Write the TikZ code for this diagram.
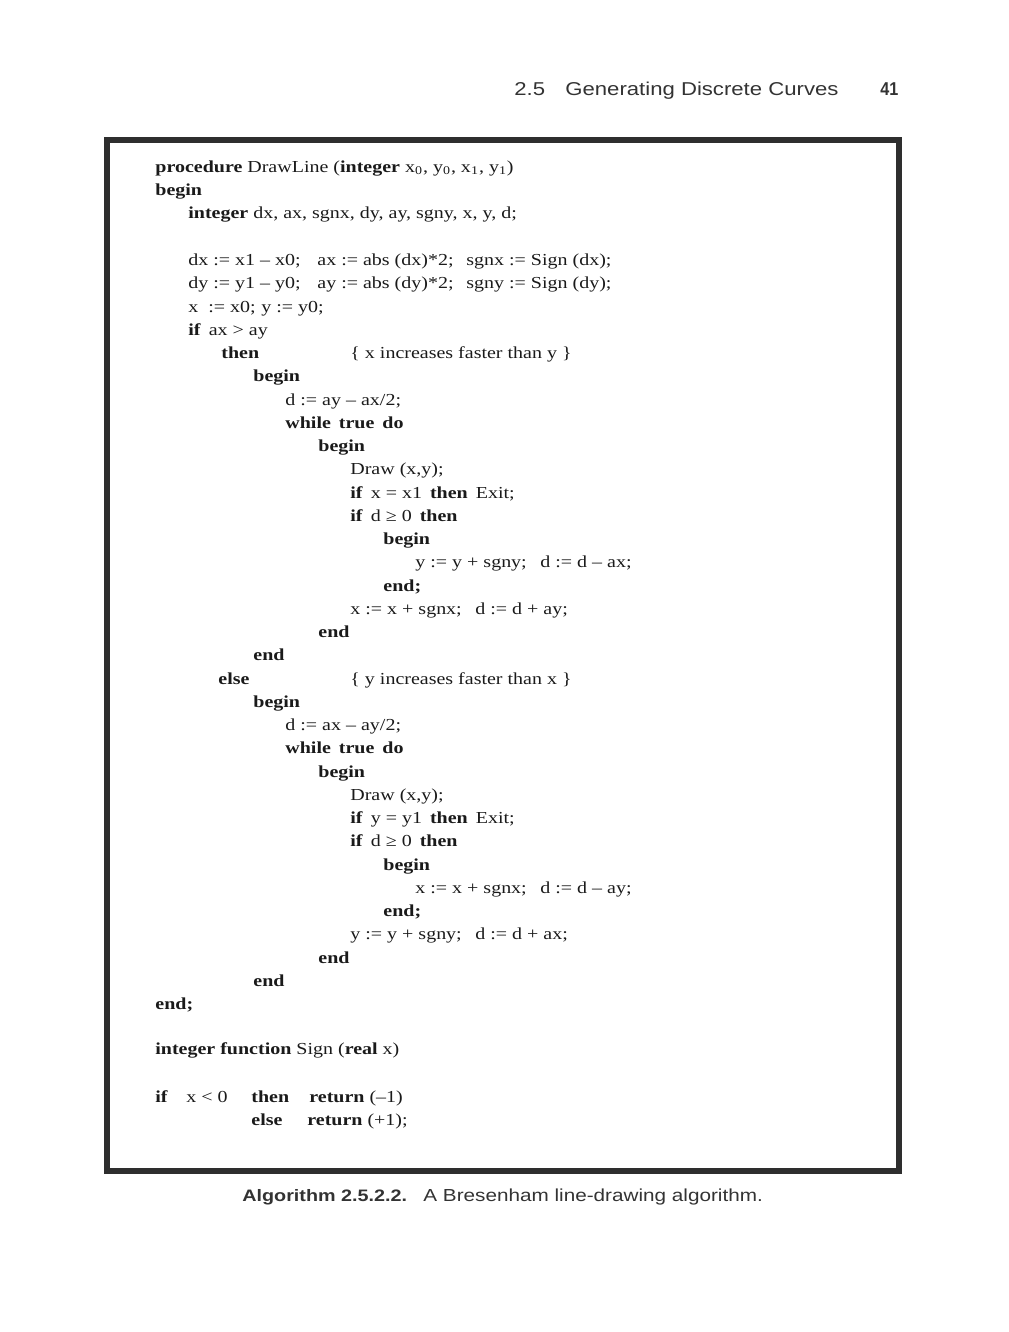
\documentclass[tikz,border=0pt]{standalone}
\usepackage{fontspec}
\setmainfont{Liberation Serif}[FakeStretch=1.19]
\newfontfamily\capfont{Liberation Sans}[FakeStretch=1.19]
\newfontfamily\pgfont{Liberation Sans}[FakeStretch=0.87]
\usepackage{tikz}
\definecolor{ink}{HTML}{1A1A1A}
\definecolor{headgray}{HTML}{333333}
\definecolor{framegray}{HTML}{2E2E2E}
\newcommand{\codesize}{\fontsize{8.4}{10}\selectfont}
\newcommand{\kw}[1]{\textbf{#1}}

\begin{document}
\begin{tikzpicture}[x=0.5pt,y=-0.5pt,
  code/.style={anchor=base west,inner sep=0pt,text=ink,font=\codesize},
  head/.style={anchor=base west,inner sep=0pt,text=headgray,font=\capfont\fontsize{9.3}{11}\selectfont},
  caption/.style={anchor=base west,inner sep=0pt,text=headgray,font=\capfont\fontsize{8.7}{10}\selectfont},
  frame/.style={draw=framegray,line width=3pt}]
  \useasboundingbox (0,0) rectangle (1008,1332);
  % running head
  \node[head] (sec)   at (514,96) {2.5};
  \node[head] (title) at (565,96) {Generating Discrete Curves};
  \node[head,font=\pgfont\bfseries\fontsize{9.3}{11}\selectfont] (page) at (880,96) {41};
  % box
  \draw[frame] (107,140) rectangle (899,1170.5);
  % procedure
  \node[code] (p0)  at (155,172.5)  {\kw{procedure} DrawLine (\kw{integer} x\textsubscript{0}, y\textsubscript{0}, x\textsubscript{1}, y\textsubscript{1})};
  \node[code] (p1)  at (155,195.75) {\kw{begin}};
  \node[code] (p2)  at (188,219)    {\kw{integer} dx, ax, sgnx, dy, ay, sgny, x, y, d;};
  \node[code] (p4a) at (188,265.5)  {dx := x1 – x0;};
  \node[code] (p4b) at (317,265.5)  {ax := abs (dx)*2;};
  \node[code] (p4c) at (466,265.5)  {sgnx := Sign (dx);};
  \node[code] (p5a) at (188,288.75) {dy := y1 – y0;};
  \node[code] (p5b) at (317,288.75) {ay := abs (dy)*2;};
  \node[code] (p5c) at (466,288.75) {sgny := Sign (dy);};
  \node[code] (p6a) at (188,312)    {x};
  \node[code] (p6b) at (208,312)    {:= x0;};
  \node[code] (p6c) at (261,312)    {y := y0;};
  \node[code] (p7)  at (188,335.25) {\kw{if}\hspace{4pt}ax > ay};
  \node[code] (p8a) at (221,358.5)  {\kw{then}};
  \node[code] (p8b) at (350,358.5)  {\{ x increases faster than y \}};
  \node[code] (p9)  at (253,381.75) {\kw{begin}};
  \node[code] (p10) at (285,405)    {d := ay – ax/2;};
  \node[code] (p11) at (285,428.25) {\kw{while}\hspace{4pt}\kw{true}\hspace{4pt}\kw{do}};
  \node[code] (p12) at (318,451.5)  {\kw{begin}};
  \node[code] (p13) at (350,474.75) {Draw (x,y);};
  \node[code] (p14) at (350,498)    {\kw{if}\hspace{4pt}x = x1\hspace{4pt}\kw{then}\hspace{4pt}Exit;};
  \node[code] (p15) at (350,521.25) {\kw{if}\hspace{4pt}d ≥ 0\hspace{4pt}\kw{then}};
  \node[code] (p16) at (383,544.5)  {\kw{begin}};
  \node[code] (p17a) at (415,567.75) {y := y + sgny;};
  \node[code] (p17b) at (540,567.75) {d := d – ax;};
  \node[code] (p18) at (383,591)    {\kw{end;}};
  \node[code] (p19a) at (350,614.25) {x := x + sgnx;};
  \node[code] (p19b) at (475,614.25) {d := d + ay;};
  \node[code] (p20) at (318,637.5)  {\kw{end}};
  \node[code] (p21) at (253,660.75) {\kw{end}};
  \node[code] (p22a) at (218,684)   {\kw{else}};
  \node[code] (p22b) at (350,684)   {\{ y increases faster than x \}};
  \node[code] (p23) at (253,707.25) {\kw{begin}};
  \node[code] (p24) at (285,730.5)  {d := ax – ay/2;};
  \node[code] (p25) at (285,753.75) {\kw{while}\hspace{4pt}\kw{true}\hspace{4pt}\kw{do}};
  \node[code] (p26) at (318,777)    {\kw{begin}};
  \node[code] (p27) at (350,800.25) {Draw (x,y);};
  \node[code] (p28) at (350,823.5)  {\kw{if}\hspace{4pt}y = y1\hspace{4pt}\kw{then}\hspace{4pt}Exit;};
  \node[code] (p29) at (350,846.75) {\kw{if}\hspace{4pt}d ≥ 0\hspace{4pt}\kw{then}};
  \node[code] (p30) at (383,870)    {\kw{begin}};
  \node[code] (p31a) at (415,893.25) {x := x + sgnx;};
  \node[code] (p31b) at (540,893.25) {d := d – ay;};
  \node[code] (p32) at (383,916.5)  {\kw{end;}};
  \node[code] (p33a) at (350,939.75) {y := y + sgny;};
  \node[code] (p33b) at (475,939.75) {d := d + ax;};
  \node[code] (p34) at (318,963)    {\kw{end}};
  \node[code] (p35) at (253,986.25) {\kw{end}};
  \node[code] (p36) at (155,1009.5) {\kw{end;}};
  % sign function
  \node[code] (f0)  at (155,1054)   {\kw{integer function} Sign (\kw{real} x)};
  \node[code] (f1a) at (155,1102)   {\kw{if}};
  \node[code] (f1b) at (186,1102)   {x < 0};
  \node[code] (f1c) at (251,1102)   {\kw{then}};
  \node[code] (f1d) at (309,1102)   {\kw{return} (–1)};
  \node[code] (f2a) at (251,1125.5) {\kw{else}};
  \node[code] (f2b) at (307,1125.5) {\kw{return} (+1);};
  % caption
  \node[caption,font=\capfont\fontsize{8.3}{10}\selectfont] (alg) at (242,1201.5) {\textbf{Algorithm 2.5.2.2.}};
  \node[caption] (cap) at (423,1201.5) {A Bresenham line-drawing algorithm.};
\end{tikzpicture}
\end{document}
